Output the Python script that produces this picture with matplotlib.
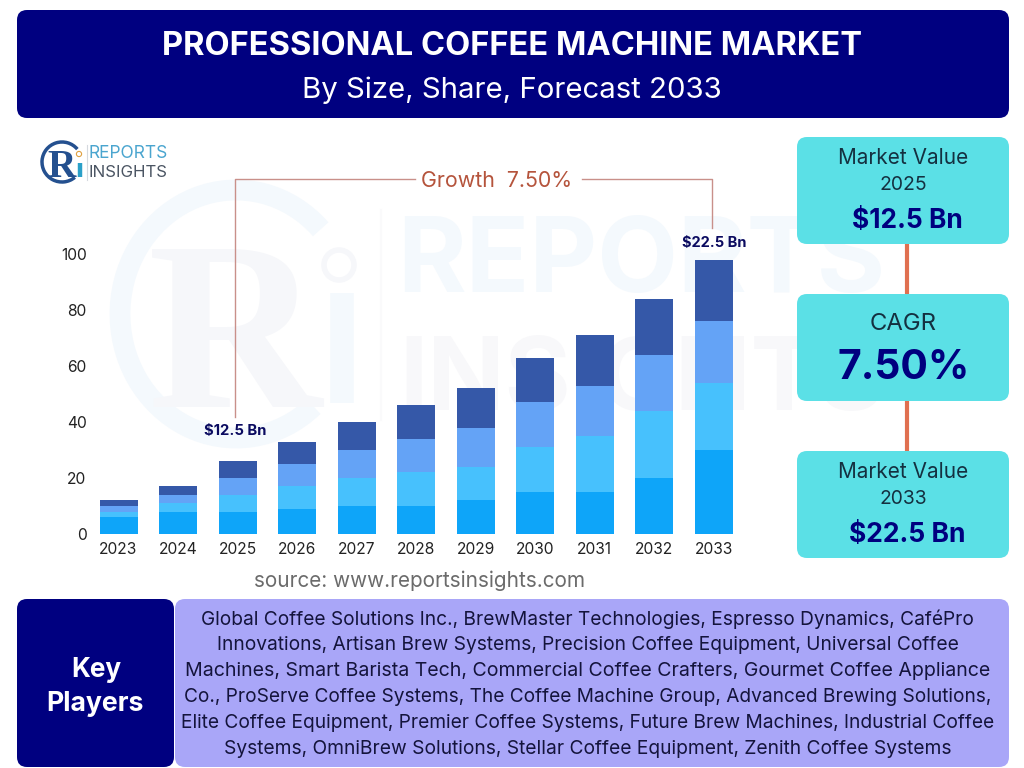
import matplotlib
matplotlib.use("Agg")
import matplotlib.pyplot as plt
from matplotlib.patches import FancyBboxPatch, Arc, Circle
from matplotlib.textpath import TextPath
from matplotlib.font_manager import FontProperties

years = ["2023","2024","2025","2026","2027","2028","2029","2030","2031","2032","2033"]
seg1 = [6, 8, 8, 9, 10, 10, 12, 15, 15, 20, 30]
seg2 = [2, 3, 6, 8, 10, 12, 12, 16, 20, 24, 24]
seg3 = [2, 3, 6, 8, 10, 12, 14, 16, 18, 20, 22]
seg4 = [2, 3, 6, 8, 10, 12, 14, 16, 18, 20, 22]
colors = ["#0ea5f9", "#47c1fd", "#64a3f6", "#3558a8"]
yticks = [0, 20, 40, 60, 80, 100]
players = [
    "Global Coffee Solutions Inc., BrewMaster Technologies, Espresso Dynamics, CaféPro",
    "Innovations, Artisan Brew Systems, Precision Coffee Equipment, Universal Coffee",
    "Machines, Smart Barista Tech, Commercial Coffee Crafters, Gourmet Coffee Appliance",
    "Co., ProServe Coffee Systems, The Coffee Machine Group, Advanced Brewing Solutions,",
    "Elite Coffee Equipment, Premier Coffee Systems, Future Brew Machines, Industrial Coffee",
    "Systems, OmniBrew Solutions, Stellar Coffee Equipment, Zenith Coffee Systems",
]
player_spans = [(201,973),(217,958),(186,990),(185,990),(181,995),(224,951)]

FONT = "Inter"
SERIF = "Liberation Serif"
W, H = 1024, 768
fig = plt.figure(figsize=(W/100, H/100), dpi=100, facecolor="white")

bg = fig.add_axes([0, 0, 1, 1], zorder=0)
bg.set_xlim(0, W); bg.set_ylim(H, 0); bg.axis("off")
fg = fig.add_axes([0, 0, 1, 1], zorder=3)
fg.set_xlim(0, W); fg.set_ylim(H, 0); fg.axis("off"); fg.patch.set_alpha(0)

def fit(ax, s, x0, x1, yc, color, weight="normal", zorder=5, family=FONT):
    fp = FontProperties(family=family, weight=weight)
    tp = TextPath((0, 0), s, size=100, prop=fp)
    w = tp.get_extents().width
    px = 100 * (x1 - x0) / w
    ax.text((x0 + x1) / 2, yc, s, ha="center", va="center_baseline", color=color,
            fontsize=px * 0.72, family=family, weight=weight, zorder=zorder)

def box(ax, x0, y0, x1, y1, color, r=10, zorder=2):
    ax.add_patch(FancyBboxPatch((x0 + r, y0 + r), x1 - x0 - 2*r, y1 - y0 - 2*r,
                                boxstyle=f"round,pad={r},rounding_size={r}",
                                fc=color, ec="none", zorder=zorder))

# watermark
WM = "#f4f9fd"
WG = "#f8f8fa"
fit(bg, "REPORTS", 403, 880, 254, WM, "bold")
fit(bg, "INSIGHTS", 405, 880, 373, WG, "bold")
bg.add_patch(Arc((236, 314), 232, 248, theta1=50, theta2=315, lw=15, color=WM))
fit(bg, "R", 149, 321, 323, "#f6f7fa", "bold", family=SERIF)
bg.plot([342, 342], [293, 403], color=WM, lw=17, solid_capstyle="butt")
bg.add_patch(Circle((339, 265), 15, fc="none", ec="#f6f7fa", lw=4))
bg.plot([381, 381], [210, 420], color="#fafafb", lw=1.5)

# header
box(fg, 17, 10, 1009, 118, "#000080")
fit(fg, "PROFESSIONAL COFFEE MACHINE MARKET", 164, 861, 43, "white", "bold")
fit(fg, "By Size, Share, Forecast 2033", 304, 720, 87, "white")

# logo
fg.add_patch(Arc((62, 162), 40, 40, theta1=50, theta2=320, lw=2.5, color="#24508f"))
fit(fg, "R", 48, 76, 163, "#24508f", "bold", family=SERIF)
fg.plot([80, 80], [163, 177], color="#2aa0c8", lw=3.2, solid_capstyle="butt")
fg.add_patch(Circle((79, 154), 2.6, fc="none", ec="#e0a040", lw=0.8))
fg.plot([87, 87], [145, 180], color="#d5d9de", lw=0.8)
fit(fg, "REPORTS", 90, 167, 152, "#4aa5cf")
fit(fg, "INSIGHTS", 90, 167, 171, "#4b5563")

# bars
ax = fig.add_axes([88/W, 1 - 534/H, (742 - 88)/W, 280/H], zorder=2)
ax.patch.set_alpha(0)
x = list(range(len(years)))
bottom = [0] * len(years)
for vals, c in zip([seg1, seg2, seg3, seg4], colors):
    ax.bar(x, vals, width=38/59.5, bottom=bottom, color=c, edgecolor="none")
    bottom = [b + v for b, v in zip(bottom, vals)]
ax.set_xlim(-30.5/59.5, (742 - 118.5)/59.5)
ax.set_ylim(0, 100)
ax.set_xticks(x, years)
ax.set_yticks(yticks)
ax.tick_params(length=0, labelsize=11.2, labelcolor="#222222", pad=6)
ax.tick_params(axis="y", pad=1)
for t in ax.get_xticklabels() + ax.get_yticklabels():
    t.set_family(FONT)
for s in ax.spines.values():
    s.set_visible(False)

# growth annotation
LINE = "#c9908a"
fg.plot([235, 235, 415], [417, 179, 179], color=LINE, lw=1)
fg.plot([582, 712, 712], [179, 179, 228], color=LINE, lw=1)
fit(fg, "Growth  7.50%", 423, 571, 179, "#b5543c")
fit(fg, "$12.5 Bn", 205, 266, 429, "#0b0b60", "bold")
fit(fg, "$22.5 Bn", 683, 746, 241, "#0b0b60", "bold")
fit(fg, "source: www.reportsinsights.com", 255, 583, 579, "#6b6b6b")

# side cards
for y0, y1 in [(244, 294), (401, 451)]:
    fg.plot([907, 907], [y0, y1], color="#e07050", lw=3, solid_capstyle="butt", zorder=1)
CARD = "#5be0e6"
for y0, y1 in [(137, 244), (294, 401), (451, 558)]:
    box(fg, 797, y0, 1009, y1, CARD)
DK = "#143040"
NV = "#00007f"
fit(fg, "Market Value", 840, 967, 156, DK)
fit(fg, "2025", 881, 926, 183, DK)
fit(fg, "$12.5 Bn", 853, 961, 218, NV, "bold")
fit(fg, "CAGR", 871, 936, 322, DK)
fit(fg, "7.50%", 840, 967, 364, NV, "bold")
fit(fg, "Market Value", 840, 967, 470, DK)
fit(fg, "2033", 881, 926, 497, DK)
fit(fg, "$22.5 Bn", 850, 964, 532, NV, "bold")

# key players
box(fg, 17, 599, 174, 767, "#000080")
box(fg, 175, 599, 1009, 767, "#a9a6f8")
fit(fg, "Key", 72, 120, 667, "white", "bold")
fit(fg, "Players", 48, 143, 701, "white", "bold")
for i, (line, (a, b)) in enumerate(zip(players, player_spans)):
    fit(fg, line, a, b, 617 + 26 * i, "#14143c")

fig.savefig("out.png", dpi=100)
